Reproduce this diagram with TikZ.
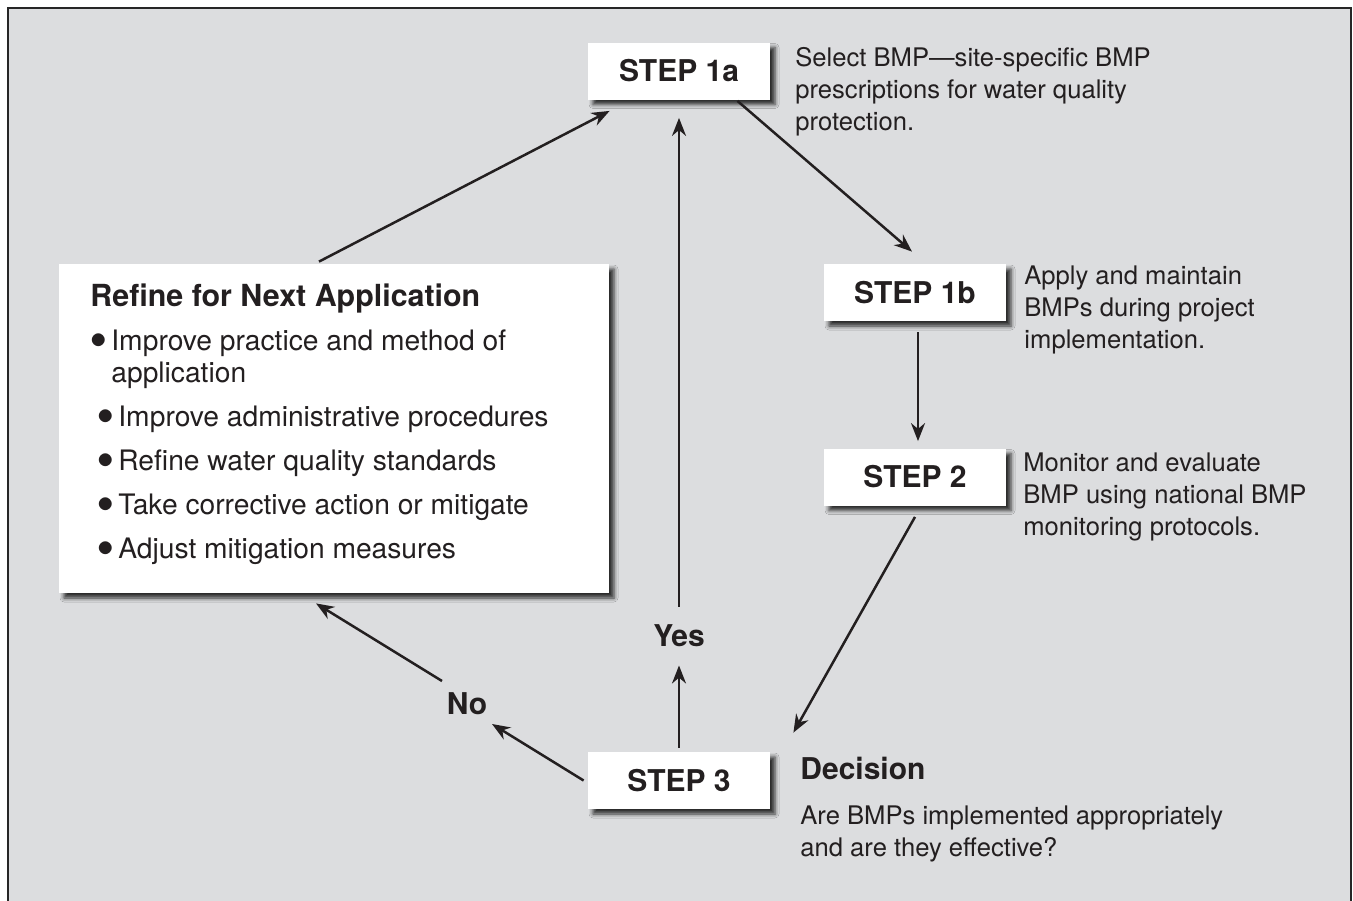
\documentclass[tikz,border=0pt]{standalone}
\usepackage{fontspec}
\setmainfont{TeX Gyre Heros}
\usetikzlibrary{arrows.meta,shadows.blur,positioning}
\definecolor{panelgray}{HTML}{DCDDDF}
\definecolor{inkblack}{HTML}{231F20}
\newcommand{\itemdot}{\makebox[10.5pt][l]{\raisebox{0.8pt}{\scalebox{1.15}{$\bullet$}}}}
\tikzset{
  stepbox/.style={fill=white, minimum width=91pt, minimum height=28.5pt, inner sep=0pt,
    font=\fontsize{15}{18}\selectfont\bfseries,
    blur shadow={shadow xshift=2.5pt, shadow yshift=-2.5pt, shadow blur radius=2pt, shadow opacity=80}},
  note/.style={anchor=north west, align=left, inner sep=0pt, font=\fontsize{12.8}{16}\selectfont},
  headtxt/.style={anchor=north west, inner sep=0pt, font=\fontsize{15}{18}\selectfont\bfseries},
  answer/.style={inner sep=9pt, font=\fontsize{15}{18}\selectfont\bfseries},
  flow/.style={line width=1.25pt, -{Stealth[length=9pt,width=7pt]}},
}
\begin{document}
\begin{tikzpicture}[x=0.5pt, y=-0.5pt, inkblack]
    \useasboundingbox (0,0) rectangle (1353,900);
    % Panel
    \begin{scope}
      \clip (0,0) rectangle (1353,900);
      \draw[line width=1pt, draw=black!85, fill=panelgray] (8,8) rectangle (1351,930);
    \end{scope}

    % Steps
    \node[stepbox] (s1a) at (679,71) {STEP 1a};
    \node[stepbox] (s1b) at (915,292.5) {STEP 1b};
    \node[stepbox] (s2) at (915,477) {STEP 2};
    \node[stepbox] (s3) at (679,780.5) {STEP 3};

    % Step notes
    \node[note] (n1a) at (795,47) {Select BMP—site-specific BMP\\prescriptions for water quality\\protection.};
    \node[note] (n1b) at (1024,265) {Apply and maintain\\BMPs during project\\implementation.};
    \node[note] (n2) at (1023,452) {Monitor and evaluate\\BMP using national BMP\\monitoring protocols.};
    \node[headtxt] (dec) at (800,757) {Decision};
    \node[note] (n3) at (800,805) {Are BMPs implemented appropriately\\and are they effective?};

    % Refine box
    \node[stepbox, minimum width=275pt, minimum height=164.5pt] (refine) at (334,428.5) {};
    \node[headtxt, font=\fontsize{15.2}{18}\selectfont\bfseries] (rhead) at (90,283) {Refine for Next Application};
    \node[note, font=\fontsize{14.1}{16}\selectfont] (rlist) at (90,329)
      {\itemdot Improve practice and method of\\
       \hspace*{10.5pt}application\\[6pt]
       \hspace*{3.5pt}\itemdot Improve administrative procedures\\[6pt]
       \hspace*{3.5pt}\itemdot Refine water quality standards\\[6pt]
       \hspace*{3.5pt}\itemdot Take corrective action or mitigate\\[6pt]
       \hspace*{3.5pt}\itemdot Adjust mitigation measures};

    % Answers
    \node[answer] (yes) at (679,636) {Yes};
    \node[answer] (no) at (467,704) {No};

    % Connectors
    \draw[flow] ([shift={(-15,-2)}]refine.north) -- ([shift={(22,11)}]s1a.south west);
    \draw[flow] ([shift={(-33,1)}]s1a.south east) -- ([shift={(-3,-12)}]s1b.north);
    \draw[flow] ([shift={(3,11)}]s1b.south) -- ([shift={(3,-7)}]s2.north);
    \draw[flow] ([shift={(0,11)}]s2.south) -- ([shift={(23,-19)}]s3.north east);
    \draw[flow] ([shift={(0,-4)}]s3.north) -- (yes.south);
    \draw[flow] (yes.north) -- ([shift={(0,18)}]s1a.south);
    \draw[flow] ([shift={(-4,0)}]s3.west) -- ([shift={(25,20)}]no.center);
    \draw[flow] ([shift={(-25,-23)}]no.center) -- ([shift={(-18,10)}]refine.south);
\end{tikzpicture}
\end{document}
